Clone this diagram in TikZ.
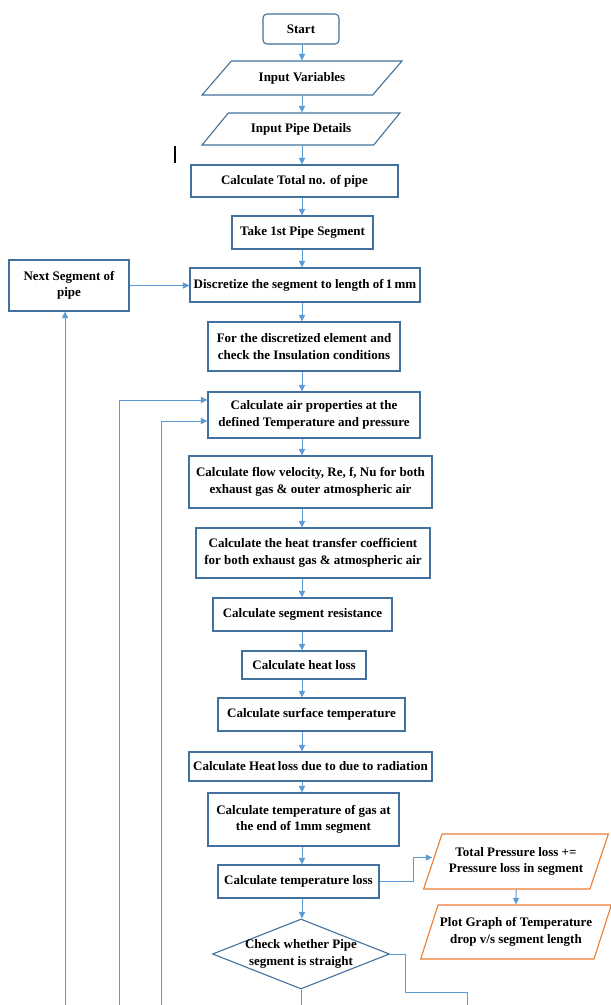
\documentclass[tikz,border=0pt]{standalone}
\usepackage{fontspec}
\setmainfont{Liberation Serif}
\usetikzlibrary{arrows.meta,shapes.geometric}
\definecolor{boxblue}{HTML}{41719C}
\definecolor{lineblue}{HTML}{5B9BD5}
\definecolor{boxorange}{HTML}{ED7D31}
\tikzset{
  flownode/.style = {align=center, text centered, inner sep=2pt,
    font=\bfseries\fontsize{13}{16.5}\selectfont},
  proc_n/.style = {flownode, rectangle, draw=boxblue, line width=1.1pt,
    fill=white},% process box
  term_n/.style = {proc_n, rounded corners=4pt},% start box
  io_n/.style = {flownode, trapezium, trapezium left angle=40,
    trapezium right angle=140, trapezium stretches=true,
    draw=boxblue, line width=1.1pt},% input/output
  io_o/.style = {io_n, draw=boxorange, trapezium left angle=62,
    trapezium right angle=118},
  dec_n/.style = {flownode, diamond, aspect=2.5, draw=boxblue,
    line width=1.1pt, inner sep=-6pt},% decision
  flow_l/.style = {draw=lineblue, line width=1pt},
}
\begin{document}
\begin{tikzpicture}[>={Triangle[length=6.5pt,width=6pt]}, x=1pt, y=-1pt]
\useasboundingbox (0,0) rectangle (611,1005);
% main column
\node [term_n, minimum width=76, minimum height=30] (start) at (301,29) {Start};
\node [io_n, minimum width=200, minimum height=34] (invar) at (302,78) {Input Variables};
\node [io_n, minimum width=198, minimum height=32] (pipedet) at (301,129) {Input Pipe Details};
\node [proc_n, minimum width=207, minimum height=32] (totalno) at (294.5,181) {Calculate Total no. of pipe};
\node [proc_n, minimum width=141, minimum height=33] (first) at (302.5,232.5) {Take 1st Pipe Segment};
\node [proc_n, minimum width=230, minimum height=34] (discr) at (305,285) {Discretize the segment to length of\,1\,mm};
\node [proc_n, minimum width=192, minimum height=49] (element) at (304,346.5) {For the discretized element and\\check the Insulation conditions};
\node [proc_n, minimum width=212, minimum height=46] (airprop) at (314,415) {Calculate air properties at the\\defined Temperature and pressure};
\node [proc_n, minimum width=243, minimum height=52] (flow) at (310.5,482) {Calculate flow velocity, Re, f, Nu for both\\exhaust gas \& outer atmospheric air};
\node [proc_n, minimum width=234, minimum height=50] (htc) at (313,553) {Calculate the heat transfer coefficient\\for both exhaust gas \& atmospheric air};
\node [proc_n, minimum width=179, minimum height=33] (resist) at (302.5,614.5) {Calculate segment resistance};
\node [proc_n, minimum width=124, minimum height=28] (heatloss) at (304,665) {Calculate heat loss};
\node [proc_n, minimum width=187, minimum height=33] (surface) at (311.5,714.5) {Calculate surface temperature};
\node [proc_n, minimum width=243, minimum height=29] (radiation) at (310.5,766.5) {Calculate Heat\,loss due to due to radiation};
\node [proc_n, minimum width=191, minimum height=53] (gastemp) at (303.5,819.5) {Calculate temperature of gas at\\the end of 1mm segment};
\node [proc_n, minimum width=161, minimum height=33] (temploss) at (298.5,881.5) {Calculate temperature loss};
\node [dec_n, minimum width=177, minimum height=70] (check) at (301,954) {Check whether Pipe\\segment is straight};
% side boxes
\node [proc_n, minimum width=120, minimum height=51] (nextseg) at (69,285.5) {Next Segment of\\pipe};
\node [io_o, minimum width=185, minimum height=55] (pressure) at (516,861.5) {Total Pressure loss +=\\Pressure loss in segment};
\node [io_o, minimum width=190, minimum height=54] (plot) at (516,932) {Plot Graph of Temperature\\drop v/s segment length};

\coordinate (spine) at (302,0);
\coordinate (loopA) at (119,1005);
\coordinate (loopB) at (161,1005);
\coordinate (loopC) at (65,1005);
\coordinate (exitA) at (301,1005);
\coordinate (exitB) at (467,1005);
\coordinate (bend) at (405,992);

\foreach \a/\b in {start/invar, invar/pipedet, pipedet/totalno, totalno/first,
    first/discr, discr/element, element/airprop, airprop/flow, flow/htc,
    htc/resist, resist/heatloss, heatloss/surface, surface/radiation,
    radiation/gastemp, gastemp/temploss, temploss/check}
  \draw [flow_l,->] (\a.south -| spine) -- (\b.north -| spine);

\draw [flow_l,->] (nextseg.east) -- (nextseg.east -| discr.west);
\draw [flow_l,->] (loopA) |- ([yshift=15pt]airprop.west);
\draw [flow_l,->] (loopB) |- ([yshift=-6pt]airprop.west);
\draw [flow_l,->] (loopC) -- (loopC |- nextseg.south);
\draw [flow_l] (check.south) -- (exitA);
\draw [flow_l] (check.east) -| (bend) -| (exitB);
\draw [flow_l,->] (temploss.east) -- ++(34,0) |- ([yshift=4pt]pressure.west);
\draw [flow_l,->] (pressure) -- (plot);

% cursor mark
\draw [line width=1.3pt] (175,146) -- (175,163);
\end{tikzpicture}
\end{document}
